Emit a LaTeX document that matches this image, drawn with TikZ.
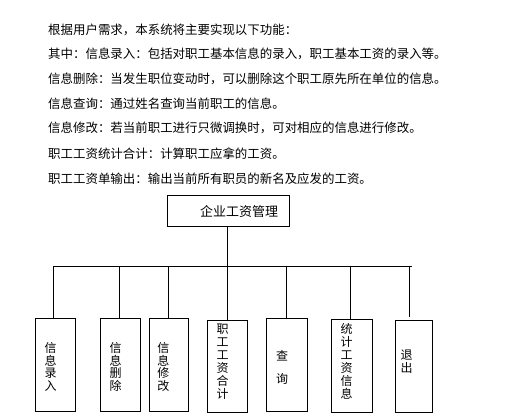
\documentclass[tikz,border=0pt]{standalone}
\usepackage{fontspec}
\newfontfamily\cjk{Noto Sans CJK SC}
\begin{document}
\begin{tikzpicture}[x=1pt,y=-1pt,
  line/.style={line width=0.8pt,black},
  box/.style={draw,line width=0.8pt,inner sep=0pt,anchor=north west},
  para/.style={anchor=west,inner sep=0pt,font=\cjk\fontsize{12.45}{14}\selectfont},
  vtext/.style={inner sep=0pt,align=center,font=\cjk\fontsize{12}{12.6}\selectfont}]
\useasboundingbox[fill=white] (0,0) rectangle (529,417);
% paragraph
\node[para] (p1) at (48,29.5) {根据用户需求，本系统将主要实现以下功能：};
\node[para] (p2) at (48,53.5) {其中：信息录入：包括对职工基本信息的录入，职工基本工资的录入等。};
\node[para] (p3) at (48,78.5) {信息删除：当发生职位变动时，可以删除这个职工原先所在单位的信息。};
\node[para] (p4) at (48,103.5) {信息查询：通过姓名查询当前职工的信息。};
\node[para] (p5) at (48,127.5) {信息修改：若当前职工进行只微调换时，可对相应的信息进行修改。};
\node[para] (p6) at (48,153.5) {职工工资统计合计：计算职工应拿的工资。};
\node[para] (p7) at (48,178.5) {职工工资单输出：输出当前所有职员的新名及应发的工资。};
% top box
\node[box,minimum width=122pt,minimum height=31pt] (top) at (166.5,195) {};
\node[inner sep=0pt,font=\cjk\fontsize{13}{14}\selectfont] (toptxt) at (239,212) {企业工资管理};
% bar
\coordinate (barL) at (54,266);
\coordinate (barR) at (412,266);
\coordinate (barC) at (227.7,266);
% child boxes
\node[box,minimum width=40pt,minimum height=93pt] (b1) at (35,318) {};
\node[box,minimum width=40pt,minimum height=93pt] (b2) at (100,318) {};
\node[box,minimum width=39pt,minimum height=93pt] (b3) at (148.7,318) {};
\node[box,minimum width=40.5pt,minimum height=92pt] (b4) at (206.7,320) {};
\node[box,minimum width=41pt,minimum height=93.5pt] (b5) at (265.7,317.7) {};
\node[box,minimum width=40.5pt,minimum height=93pt] (b6) at (331.3,319) {};
\node[box,minimum width=37.5pt,minimum height=92pt] (b7) at (394.7,320) {};
% tap coordinates
\coordinate (t1) at (53.7,266);
\coordinate (t2) at (119,266);
\coordinate (t3) at (168.3,266);
\coordinate (t4) at (227.7,266);
\coordinate (t5) at (286.7,266);
\coordinate (t6) at (350,266);
\coordinate (t7) at (409.3,266);
\coordinate (e7) at (409.3,316.7);
% connectors
\draw[line] (top.south -| barC) -- (barC);
\draw[line] (barL) -- (barR);
\draw[line] (t1) -- (b1.north -| t1);
\draw[line] (t2) -- (b2.north -| t2);
\draw[line] (t3) -- (b3.north -| t3);
\draw[line] (t4) -- (b4.north -| t4);
\draw[line] (t5) -- (b5.north -| t5);
\draw[line] (t6) -- (b6.north -| t6);
\draw[line] (t7) -- (e7);
% vertical texts
\node[vtext] (v1) at (50.7,367) {信\\息\\录\\入};
\node[vtext] (v2) at (115.7,367) {信\\息\\删\\除};
\node[vtext] (v3) at (163.3,367) {信\\息\\修\\改};
\node[vtext,font=\cjk\fontsize{12}{12.9}\selectfont] (v4) at (222.7,361.5) {职\\工\\工\\资\\合\\计};
\node[vtext,font=\cjk\fontsize{12}{23.3}\selectfont] (v5) at (282,367.3) {查\\询};
\node[vtext,font=\cjk\fontsize{12}{12.9}\selectfont] (v6) at (346.7,361.5) {统\\计\\工\\资\\信\\息};
\node[vtext] (v7) at (406.7,361.5) {退\\出};
\end{tikzpicture}
\end{document}
